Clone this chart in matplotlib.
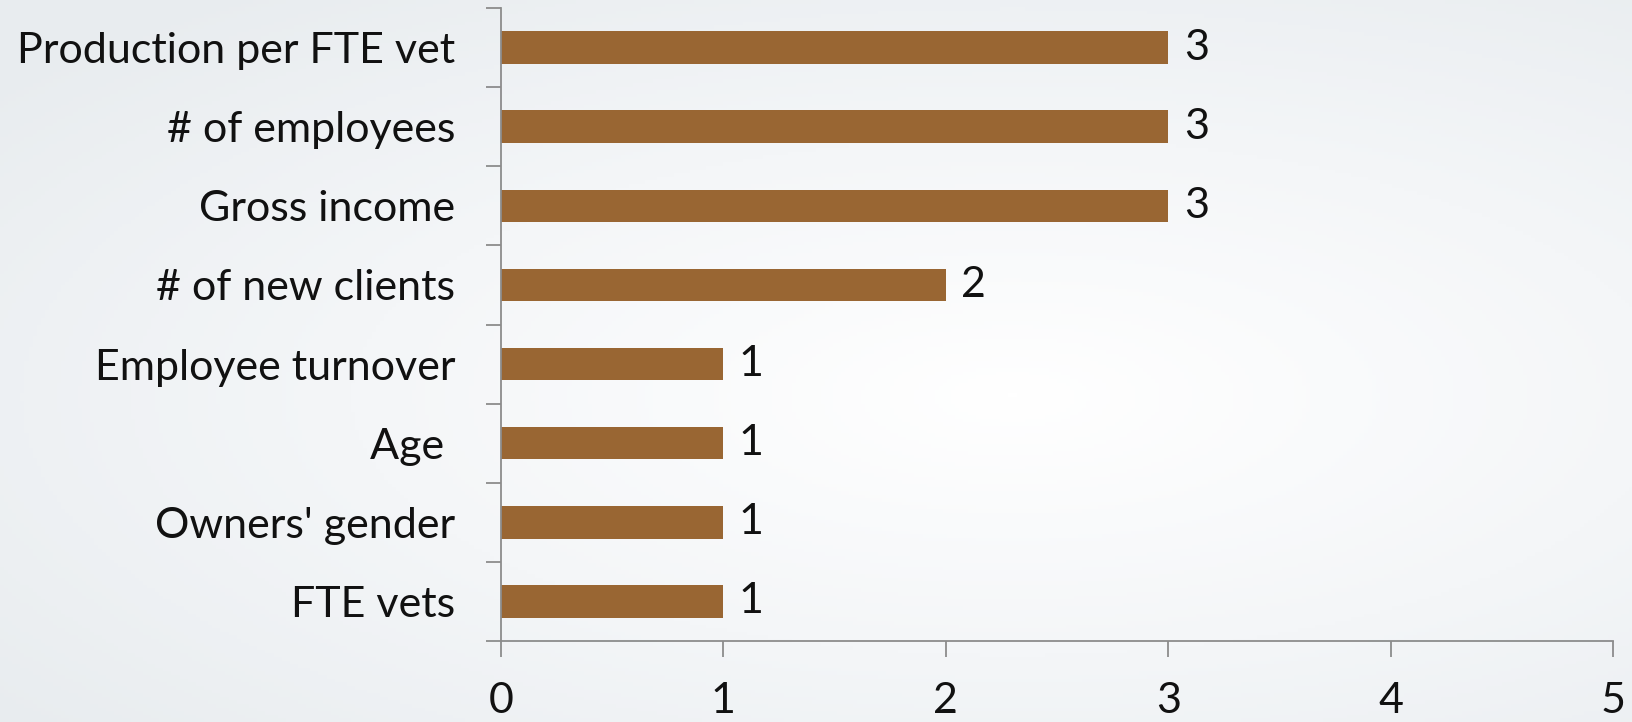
import numpy as np
import matplotlib.pyplot as plt
from matplotlib.ticker import FixedLocator

categories = ["FTE vets", "Owners' gender", "Age ", "Employee turnover",
              "# of new clients", "Gross income", "# of employees", "Production per FTE vet"]
counts = [1, 1, 1, 1, 2, 3, 3, 3]

bar_color = "#996633"
axis_color = "#8c8c8c"

plt.rcParams['font.family'] = ['Lato', 'DejaVu Sans']

fig = plt.figure(figsize=(16.33, 7.22), dpi=100)

# soft radial background like the slide
bg = fig.add_axes([0, 0, 1, 1], zorder=-10)
yy, xx = np.mgrid[0:1:200j, 0:1:400j]
r = np.sqrt(((xx - 0.62) / 0.9) ** 2 + ((yy - 0.55) / 0.8) ** 2)
bg.imshow(r, cmap=plt.matplotlib.colors.LinearSegmentedColormap.from_list(
    "bg", ["#ffffff", "#f4f6f8", "#e8ecef"]), extent=[0, 1, 0, 1], aspect='auto',
    vmin=0, vmax=0.9)
bg.axis('off')

ax = fig.add_axes([501 / 1633, 1 - 641 / 722, (1613 - 501) / 1633, (641 - 8) / 722])
ax.patch.set_alpha(0)

pos = np.arange(len(categories))
ax.barh(pos, counts, height=0.41, color=bar_color)
for p, v in zip(pos, counts):
    ax.text(v + 0.07, p, str(v), va='center', ha='left', fontsize=31, color='#111111')

ax.set_xlim(0, 5)
ax.set_ylim(-0.5, len(categories) - 0.5)
ax.set_xticks(range(6))
ax.tick_params(axis='x', direction='out', length=11.5, width=1.3, color=axis_color,
               labelsize=31, pad=18, labelcolor='#111111')

ax.yaxis.set_major_locator(FixedLocator(np.arange(len(categories) + 1) - 0.5))
ax.yaxis.set_major_formatter(plt.NullFormatter())
ax.set_yticks(pos, minor=True)
ax.set_yticklabels(categories, minor=True)
ax.tick_params(axis='y', which='major', direction='out', length=11, width=1.3, color=axis_color)
ax.tick_params(axis='y', which='minor', length=0, labelsize=31, pad=33, labelcolor='#111111')

for s in ['top', 'right']:
    ax.spines[s].set_visible(False)
for s in ['left', 'bottom']:
    ax.spines[s].set_color(axis_color)
    ax.spines[s].set_linewidth(1.3)

fig.savefig("out.png", dpi=100)
